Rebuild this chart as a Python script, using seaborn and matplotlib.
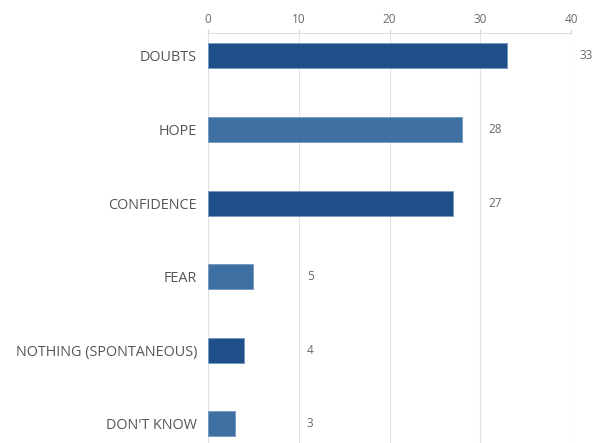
import numpy as np
import pandas as pd
import matplotlib
matplotlib.use("Agg")
import matplotlib.pyplot as plt
import seaborn as sns

categories = ["DOUBTS", "HOPE", "CONFIDENCE", "FEAR", "NOTHING (SPONTANEOUS)", "DON'T KNOW"]
values = [33, 28, 27, 5, 4, 3]
bar_colors = ["#1F4F89", "#3E70A2", "#1F4F89", "#3E70A2", "#1F4F89", "#3E70A2"]
x_ticks = [0, 10, 20, 30, 40]

sns.set_theme(style="white")
plt.rcParams['font.family'] = ['Open Sans', 'DejaVu Sans']

df = pd.DataFrame({"category": categories, "value": values})

fig = plt.figure(figsize=(5.93, 4.43), dpi=100)
ax = fig.add_axes([0.3508, 0.0, 0.6121, 0.9255])

sns.barplot(data=df, x="value", y="category", hue="category", palette=bar_colors,
            saturation=1, legend=False, width=0.34, edgecolor="#7298c0", linewidth=0.6,
            ax=ax, zorder=3)

ax.set_xlim(0, 40)
ax.set_ylim(5.26, -0.31)
ax.set_xticks(x_ticks)
ax.xaxis.tick_top()
ax.tick_params(axis="x", colors="#d8d8d8", labelcolor="#6a6a6a", labelsize=8.5,
               length=3, width=0.8, pad=2, top=True, bottom=False)
ax.tick_params(axis="y", length=0, labelcolor="#555555", labelsize=10.4, pad=8)
ax.set_xlabel("")
ax.set_ylabel("")

ax.grid(axis="x", color="#e2e2e2", linewidth=0.8, zorder=0)
for side in ["left", "right", "bottom"]:
    ax.spines[side].set_visible(False)
ax.spines["top"].set_color("#dddddd")
ax.spines["top"].set_linewidth(0.8)

# value labels sit just past the next gridline
for i, v in enumerate(values):
    lx = np.ceil(v / 10) * 10 + 0.9
    ax.text(lx, i, str(v), va="center", ha="left", fontsize=8.5, color="#6a6a6a", clip_on=False)

fig.savefig("out.png", dpi=100)
